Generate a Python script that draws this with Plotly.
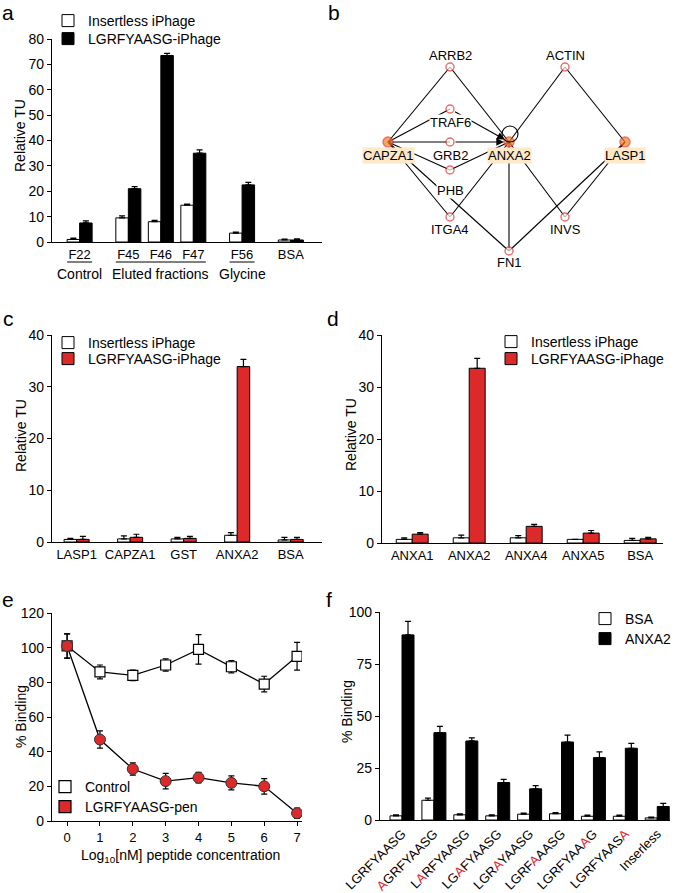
import plotly.graph_objects as go

W, H = 675, 893
FONT = "Liberation Sans, Arial, sans-serif"
RED = "#dc2a2a"

# ---- panel a: eluted fractions ----
a_labels = ["F22", "F45", "F46", "F47", "F56", "BSA"]
a_pos = [0, 1.5, 2.5, 3.5, 5, 6.5]
a_insertless = [1.0, 9.5, 8.0, 14.5, 3.5, 0.8]
a_insertless_err = [0.5, 0.8, 0.5, 0.4, 0.4, 0.3]
a_peptide = [7.5, 21.0, 73.5, 35.0, 22.5, 0.8]
a_peptide_err = [0.8, 0.8, 0.8, 1.3, 1.0, 0.4]
a_groups = [("Control", ["F22"]), ("Eluted fractions", ["F45", "F46", "F47"]), ("Glycine", ["F56"])]

# ---- panel b: interaction network ----
b_nodes = ["ARRB2", "ACTIN", "TRAF6", "CAPZA1", "GRB2", "ANXA2", "LASP1", "PHB", "ITGA4", "INVS", "FN1"]
b_hubs = ["CAPZA1", "ANXA2", "LASP1"]
b_edges = [("CAPZA1", "ARRB2"), ("ARRB2", "ANXA2"), ("CAPZA1", "TRAF6"), ("CAPZA1", "GRB2"),
           ("CAPZA1", "PHB"), ("PHB", "ANXA2"), ("CAPZA1", "ITGA4"), ("ITGA4", "ANXA2"),
           ("CAPZA1", "FN1"), ("ANXA2", "FN1"), ("ANXA2", "ACTIN"), ("ACTIN", "LASP1"),
           ("ANXA2", "INVS"), ("INVS", "LASP1"), ("LASP1", "FN1")]
b_arrows = [("TRAF6", "ANXA2"), ("GRB2", "ANXA2")]

# ---- panel c ----
c_labels = ["LASP1", "CAPZA1", "GST", "ANXA2", "BSA"]
c_insertless = [0.5, 0.6, 0.6, 1.3, 0.4]
c_insertless_err = [0.2, 0.6, 0.3, 0.5, 0.5]
c_peptide = [0.5, 0.9, 0.7, 33.9, 0.5]
c_peptide_err = [0.6, 0.6, 0.4, 1.4, 0.4]

# ---- panel d ----
d_labels = ["ANXA1", "ANXA2", "ANXA4", "ANXA5", "BSA"]
d_insertless = [0.7, 1.0, 1.0, 0.7, 0.5]
d_insertless_err = [0.3, 0.5, 0.4, 0.0, 0.4]
d_peptide = [1.7, 33.6, 3.2, 1.9, 0.8]
d_peptide_err = [0.3, 1.9, 0.4, 0.5, 0.3]

# ---- panel e ----
e_conc = [0, 1, 2, 3, 4, 5, 6, 7]
e_control = [101, 86, 84, 90, 99, 89, 79, 95]
e_control_err = [7, 4, 3, 3.5, 8.5, 3.5, 4.5, 8]
e_pen = [101, 47, 30, 23, 25, 22, 20, 4.5]
e_pen_err = [7, 5, 3.5, 4.5, 3, 4, 4.5, 3]

# ---- panel f ----
f_labels = ["LGRFYAASG", "<span style='color:#e0282e'>A</span>GRFYAASG",
            "L<span style='color:#e0282e'>A</span>RFYAASG", "LG<span style='color:#e0282e'>A</span>FYAASG",
            "LGR<span style='color:#e0282e'>A</span>YAASG", "LGRF<span style='color:#e0282e'>A</span>AASG",
            "LGRFYAA<span style='color:#e0282e'>A</span>G", "LGRFYAAS<span style='color:#e0282e'>A</span>",
            "Inserless"]
f_bsa = [2.0, 9.5, 2.5, 2.0, 2.8, 3.0, 1.8, 1.8, 1.0]
f_bsa_err = [0.5, 1.0, 0.5, 0.5, 0.5, 0.5, 0.5, 0.5, 0.4]
f_anxa2 = [89, 42, 38, 18, 15, 37.5, 30, 34.5, 6.5]
f_anxa2_err = [6.5, 3.0, 1.5, 1.5, 1.5, 3.3, 2.8, 2.3, 1.5]


def px(x):
    return x / W


def py(y):
    return 1 - y / H


fig = go.Figure()


def bar_pair(xs, s1, s2, axis, legends, w):
    for (name, y, e, color), off, lg in ((s1, -w, legends[0]), (s2, 0, legends[1])):
        fig.add_trace(go.Bar(
            x=xs, y=y, width=w, offset=off, name=name, legend=lg,
            marker=dict(color=color, line=dict(color="black", width=1)),
            error_y=dict(type="data", array=e, arrayminus=[0] * len(e), symmetric=False,
                         color="black", thickness=1.2, width=3),
            xaxis="x" + axis, yaxis="y" + axis))


bar_pair(a_pos, ("Insertless iPhage", a_insertless, a_insertless_err, "white"),
         ("LGRFYAASG-iPhage", a_peptide, a_peptide_err, "black"), "", ("legend", "legend2"), 0.385)
bar_pair(list(range(5)), ("Insertless iPhage", c_insertless, c_insertless_err, "white"),
         ("LGRFYAASG-iPhage", c_peptide, c_peptide_err, RED), "3", ("legend3", "legend4"), 0.234)
bar_pair(list(range(5)), ("Insertless iPhage", d_insertless, d_insertless_err, "white"),
         ("LGRFYAASG-iPhage", d_peptide, d_peptide_err, RED), "4", ("legend5", "legend6"), 0.28)
bar_pair(list(range(9)), ("BSA", f_bsa, f_bsa_err, "white"),
         ("ANXA2", f_anxa2, f_anxa2_err, "black"), "6", ("legend9", "legend10"), 0.376)

# panel e lines
fig.add_trace(go.Scatter(
    x=e_conc, y=e_control, mode="lines+markers", showlegend=False, xaxis="x5", yaxis="y5",
    line=dict(color="black", width=1.3),
    marker=dict(symbol="square", size=10, color="white", line=dict(color="black", width=1.2)),
    error_y=dict(type="data", array=e_control_err, color="black", thickness=1.2, width=3)))
fig.add_trace(go.Scatter(
    x=e_conc, y=e_pen, mode="lines+markers", showlegend=False, xaxis="x5", yaxis="y5",
    line=dict(color="black", width=1.3),
    marker=dict(symbol="circle", size=11, color=RED, line=dict(color="#333", width=1)),
    error_y=dict(type="data", array=e_pen_err, color="black", thickness=1.2, width=3)))
for name, color, lg in (("Control", "white", "legend7"), ("LGRFYAASG-pen", RED, "legend8")):
    fig.add_trace(go.Scatter(
        x=[None], y=[None], mode="markers", name=name, legend=lg, xaxis="x5", yaxis="y5",
        marker=dict(symbol="square", size=12, color=color, line=dict(color="black", width=1.2))))

# panel b network (coordinates in panel pixels)
node_xy = {"ARRB2": (450, 67), "ACTIN": (565, 67), "TRAF6": (450, 109), "CAPZA1": (388, 142),
           "GRB2": (450, 142), "ANXA2": (509, 142), "LASP1": (625, 142), "PHB": (450, 170),
           "ITGA4": (450, 217), "INVS": (565, 217), "FN1": (509, 251)}
label_dy = {"ARRB2": -12, "ACTIN": -12, "TRAF6": 13, "CAPZA1": 13, "GRB2": 13, "ANXA2": 13,
            "LASP1": 13, "PHB": 20, "ITGA4": 12, "INVS": 12, "FN1": 11}

ex, ey = [], []
for s, t in b_edges:
    ex += [node_xy[s][0], node_xy[t][0], None]
    ey += [node_xy[s][1], node_xy[t][1], None]
fig.add_trace(go.Scatter(x=ex, y=ey, mode="lines", line=dict(color="black", width=1.1),
                         showlegend=False, hoverinfo="skip", xaxis="x2", yaxis="y2"))

annotations = []
for s, t in b_arrows:
    annotations.append(dict(
        x=node_xy[t][0], y=node_xy[t][1], ax=node_xy[s][0], ay=node_xy[s][1],
        xref="x2", yref="y2", axref="x2", ayref="y2", text="", showarrow=True,
        arrowhead=2, arrowsize=1.4, arrowwidth=1.1, arrowcolor="black", standoff=5, startstandoff=4))

fig.add_shape(type="circle", xref="x2", yref="y2", x0=502, x1=518, y0=126, y1=142,
              line=dict(color="black", width=1.1))

fig.add_trace(go.Scatter(
    x=[node_xy[n][0] for n in b_nodes], y=[node_xy[n][1] for n in b_nodes], mode="markers",
    showlegend=False, hoverinfo="skip", xaxis="x2", yaxis="y2",
    marker=dict(size=[10 if n in b_hubs else 8 for n in b_nodes],
                color=["#f57d23" if n in b_hubs else "white" for n in b_nodes],
                line=dict(color="#e2332b", width=1.4))))

for n in b_nodes:
    bg = "#fde8c8" if n in b_hubs else ("white" if n in ("TRAF6", "PHB") else "rgba(0,0,0,0)")
    annotations.append(dict(x=node_xy[n][0], y=node_xy[n][1] + label_dy[n], xref="x2", yref="y2",
                            text=n, showarrow=False, bgcolor=bg, borderpad=0,
                            font=dict(size=13, color="black")))

# panel a group labels with underlines
w_a = 0.385
for gname, members in a_groups:
    ps = [a_pos[a_labels.index(m)] for m in members]
    fig.add_shape(type="line", xref="x", yref="paper", x0=min(ps) - w_a, x1=max(ps) + w_a,
                  y0=py(262), y1=py(262), line=dict(color="black", width=1))
    annotations.append(dict(x=sum(ps) / len(ps), y=py(274), xref="x", yref="paper", text=gname,
                            showarrow=False, yanchor="middle", xanchor="center",
                            font=dict(size=14, color="black")))


def paper_text(text, x, y, size=14, angle=0):
    annotations.append(dict(x=px(x), y=py(y), xref="paper", yref="paper", text=text,
                            showarrow=False, xanchor="center", yanchor="middle", textangle=angle,
                            font=dict(size=size, color="black")))


# panel letters
for letter, (lx, ly) in {"a": (8, 13), "b": (334, 12), "c": (8, 318), "d": (333, 318),
                         "e": (8, 599), "f": (329, 599)}.items():
    paper_text(letter, lx, ly, size=21)

# axis titles
for text, (tx, ty), ang in (("Relative TU", (20, 136), -90), ("Relative TU", (21, 436), -90),
                            ("Relative TU", (351, 435), -90), ("% Binding", (21, 717), -90),
                            ("% Binding", (347, 712), -90),
                            ("Log<sub>10</sub>[nM] peptide concentration", (180, 856), 0)):
    paper_text(text, tx, ty, angle=ang)

axis_style = dict(showline=True, linecolor="black", linewidth=1.3, ticks="outside", ticklen=4,
                  tickwidth=1.3, tickcolor="black", showgrid=False, zeroline=False,
                  tickfont=dict(size=13, color="black"))
yax = dict(axis_style, tickfont=dict(size=14, color="black"))
xcat = dict(axis_style, ticks="")

# one legend per entry: (text start x, entry centre y) in page pixels
legend_at = {"legend": (87, 20), "legend2": (87, 38), "legend3": (87, 342), "legend4": (87, 358),
             "legend5": (530, 341), "legend6": (530, 358), "legend7": (84, 786),
             "legend8": (84, 806), "legend9": (624, 618), "legend10": (624, 638)}
legends = {k: dict(font=dict(size=14, color="black"), bgcolor="rgba(0,0,0,0)", xanchor="left",
                   yanchor="top", itemclick=False, x=px(tx - 39), y=py(cy - 15))
           for k, (tx, cy) in legend_at.items()}

fig.update_layout(
    width=W, height=H, margin=dict(l=0, r=0, t=0, b=0, autoexpand=False),
    paper_bgcolor="white", plot_bgcolor="white", barmode="overlay",
    font=dict(family=FONT, color="black"),
    xaxis=dict(xcat, domain=[px(52), px(322)], range=[-0.85, 7.46],
               tickvals=a_pos, ticktext=a_labels, anchor="y"),
    yaxis=dict(yax, domain=[py(242), py(39)], range=[0, 80], dtick=10, anchor="x"),
    xaxis2=dict(domain=[px(330), 1], range=[330, 675], visible=False, anchor="y2"),
    yaxis2=dict(domain=[py(280), py(30)], range=[280, 30], visible=False, anchor="x2"),
    xaxis3=dict(xcat, domain=[px(52), px(322)], range=[-0.46, 4.585],
                tickvals=list(range(5)), ticktext=c_labels, anchor="y3"),
    yaxis3=dict(yax, domain=[py(542), py(335)], range=[0, 40], dtick=10, anchor="x3"),
    xaxis4=dict(xcat, domain=[px(382), px(663)], range=[-0.53, 4.4],
                tickvals=list(range(5)), ticktext=d_labels, anchor="y4"),
    yaxis4=dict(yax, domain=[py(543), py(335)], range=[0, 40], dtick=10, anchor="x4"),
    xaxis5=dict(axis_style, domain=[px(52), px(302)], range=[-0.46, 7.15],
                tickvals=e_conc, anchor="y5"),
    yaxis5=dict(yax, domain=[py(821), py(613)], range=[0, 120], dtick=20, anchor="x5"),
    xaxis6=dict(xcat, domain=[px(380), px(670)], range=[-0.69, 8.4], tickangle=-45,
                tickvals=list(range(9)), ticktext=f_labels, anchor="y6"),
    yaxis6=dict(yax, domain=[py(820), py(612)], range=[0, 100], dtick=25, anchor="x6"),
    annotations=annotations,
    **legends,
)

fig.write_html("out.html", config={"displayModeBar": False},
               post_script="document.body.style.margin = '0px';")
